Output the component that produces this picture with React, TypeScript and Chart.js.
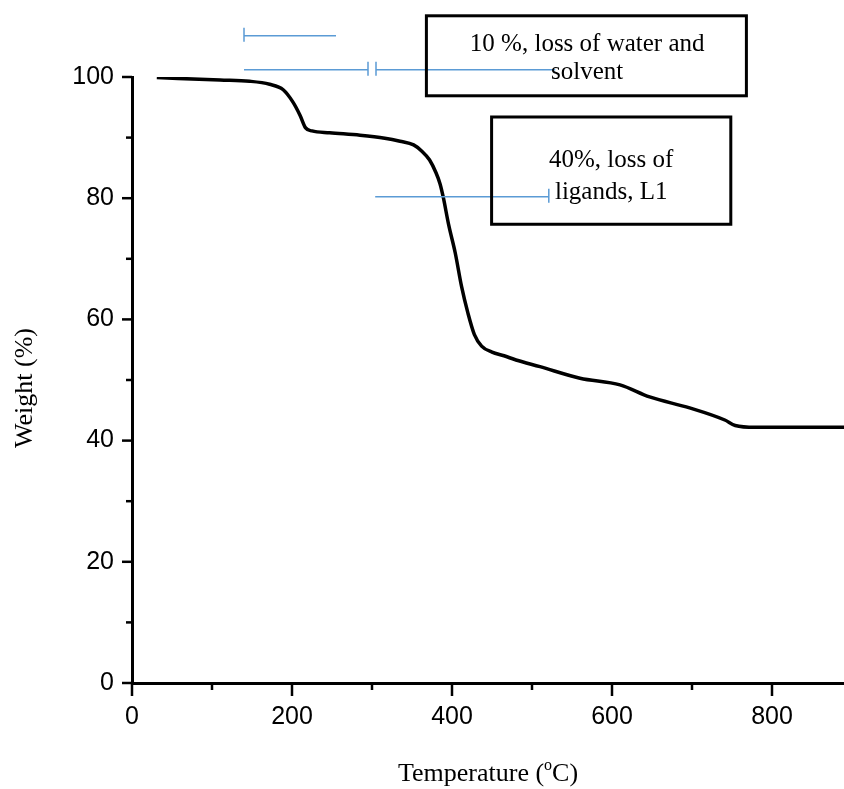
import React, { useEffect, useRef } from 'react';
import { Chart, registerables } from 'chart.js';
Chart.register(...registerables);

// TGA curve (temperature in °C, weight in %)
const temperatures = [31, 110, 147, 172, 189, 201, 210, 217, 225, 247, 285, 316, 335, 352, 362, 372, 380, 385, 389, 396, 404, 412, 420, 428, 437, 450, 465, 480, 510, 560, 610, 647, 697, 741, 754, 779, 890];
const weights = [99.9, 99.5, 99.3, 98.8, 97.9, 95.9, 93.7, 91.6, 91.1, 90.8, 90.4, 89.9, 89.4, 88.8, 87.8, 86.3, 84.2, 82.4, 80.2, 75.5, 71.0, 65.4, 61.0, 57.5, 55.6, 54.6, 54.0, 53.3, 52.2, 50.3, 49.2, 47.2, 45.4, 43.4, 42.5, 42.2, 42.2];

const xTicks = [0, 100, 200, 300, 400, 500, 600, 700, 800];
const xLabels = [0, 200, 400, 600, 800];
const yTicks = [0, 10, 20, 30, 40, 50, 60, 70, 80, 90, 100];
const yLabels = [0, 20, 40, 60, 80, 100];

const xTitle = ['Temperature (', 'o', 'C)'];
const yTitle = 'Weight (%)';

// annotations (data units)
const boxes = [
  { x1: 368, x2: 768, y1: 110.1, y2: 96.9, lines: ['10 %, loss of water and', 'solvent'], tx: 569, ty: [105.3, 100.7] },
  { x1: 449.5, x2: 748.5, y1: 93.4, y2: 75.7, lines: ['40%, loss of', 'ligands, L1'], tx: 599, ty: [86.3, 81.0] },
];
// blue bracket lines: [xStart, xEnd, y, capAtStart, capAtEnd]
const brackets: [number, number, number, boolean, boolean][] = [
  [140, 255, 106.8, true, false],
  [140, 295, 101.2, false, true],
  [305, 529, 101.2, true, false],
  [304, 521, 80.25, false, true],
];

const annotPlugin = {
  id: 'annot',
  afterDraw(chart: any) {
    const { ctx, scales, chartArea } = chart;
    const x = scales.x, y = scales.y;
    const px = (v: number) => x.getPixelForValue(v);
    const py = (v: number) => y.getPixelForValue(v);
    ctx.save();
    // tick marks
    ctx.strokeStyle = '#000';
    ctx.lineWidth = 2.5;
    yTicks.forEach((v) => {
      const len = yLabels.includes(v) ? 10 : 6;
      const yy = py(v);
      ctx.beginPath();
      ctx.moveTo(chartArea.left - len, yy);
      ctx.lineTo(chartArea.left, yy);
      ctx.stroke();
    });
    xTicks.forEach((v) => {
      const len = xLabels.includes(v) ? 13 : 7;
      const xx = px(v);
      ctx.beginPath();
      ctx.moveTo(xx, chartArea.bottom);
      ctx.lineTo(xx, chartArea.bottom + len);
      ctx.stroke();
    });
    // blue brackets
    ctx.strokeStyle = '#5B9BD5';
    ctx.lineWidth = 1.5;
    brackets.forEach(([a, b, v, c1, c2]) => {
      const yy = py(v);
      ctx.beginPath();
      ctx.moveTo(px(a), yy);
      ctx.lineTo(px(b), yy);
      if (c1) { ctx.moveTo(px(a), yy - 8); ctx.lineTo(px(a), yy + 6); }
      if (c2) { ctx.moveTo(px(b), yy - 8); ctx.lineTo(px(b), yy + 6); }
      ctx.stroke();
    });
    // boxes
    ctx.strokeStyle = '#000';
    ctx.lineWidth = 3;
    ctx.fillStyle = '#000';
    ctx.font = '25px "Liberation Serif", "Times New Roman", serif';
    ctx.textAlign = 'center';
    ctx.textBaseline = 'middle';
    boxes.forEach((bx) => {
      const l = px(bx.x1), r = px(bx.x2), t = py(bx.y1), bt = py(bx.y2);
      ctx.strokeRect(l, t, r - l, bt - t);
      bx.lines.forEach((s, i) => ctx.fillText(s, px(bx.tx), py(bx.ty[i])));
    });
    // x title with superscript
    const cx = (chartArea.left + chartArea.right) / 2;
    const ty = chart.height - 16;
    const big = '26px "Liberation Serif", "Times New Roman", serif';
    const small = '16px "Liberation Serif", "Times New Roman", serif';
    ctx.font = big;
    const w1 = ctx.measureText(xTitle[0]).width;
    const w3 = ctx.measureText(xTitle[2]).width;
    ctx.font = small;
    const w2 = ctx.measureText(xTitle[1]).width;
    const total = w1 + w2 + w3;
    let sx = cx - total / 2;
    ctx.textAlign = 'left';
    ctx.textBaseline = 'alphabetic';
    ctx.font = big;
    ctx.fillText(xTitle[0], sx, ty + 8);
    sx += w1;
    ctx.font = small;
    ctx.fillText(xTitle[1], sx, ty - 3);
    sx += w2;
    ctx.font = big;
    ctx.fillText(xTitle[2], sx, ty + 8);
    // y title
    ctx.translate(25, (chartArea.top + chartArea.bottom) / 2 + 8);
    ctx.rotate(-Math.PI / 2);
    ctx.textAlign = 'center';
    ctx.textBaseline = 'middle';
    ctx.font = big;
    ctx.fillText(yTitle, 0, 0);
    ctx.restore();
  },
};

export default function App() {
  const ref = useRef<HTMLCanvasElement>(null);
  useEffect(() => {
    document.body.style.margin = '0';
    const chart = new Chart(ref.current!, {
      type: 'line',
      data: {
        datasets: [
          {
            data: temperatures.map((t, i) => ({ x: t, y: weights[i] })),
            borderColor: '#000',
            borderWidth: 3.5,
            pointRadius: 0,
            fill: false,
            cubicInterpolationMode: 'monotone',
          },
        ],
      },
      options: {
        responsive: false,
        animation: false,
        layout: { padding: { top: 77, left: 0, right: 0, bottom: 0 } },
        plugins: { legend: { display: false }, tooltip: { enabled: false } },
        scales: {
          x: {
            type: 'linear',
            min: 0,
            max: 890,
            afterBuildTicks: (s: any) => { s.ticks = xTicks.map((v) => ({ value: v })); },
            afterFit: (s: any) => { s.height = 106; },
            ticks: {
              callback: (v: any) => (xLabels.includes(Number(v)) ? String(v) : ''),
              font: { family: '"Liberation Sans", Arial, sans-serif', size: 25 },
              color: '#000',
              padding: 19,
              maxRotation: 0,
              autoSkip: false,
            },
            grid: { display: false, drawTicks: false },
            border: { display: true, color: '#000', width: 3 },
          },
          y: {
            type: 'linear',
            min: 0,
            max: 100,
            afterBuildTicks: (s: any) => { s.ticks = yTicks.map((v) => ({ value: v })); },
            afterFit: (s: any) => { s.width = 132; },
            ticks: {
              callback: (v: any) => (yLabels.includes(Number(v)) ? String(v) : ''),
              font: { family: '"Liberation Sans", Arial, sans-serif', size: 25 },
              color: '#000',
              padding: 18,
              autoSkip: false,
            },
            grid: { display: false, drawTicks: false },
            border: { display: true, color: '#000', width: 3 },
          },
        },
      },
      plugins: [annotPlugin],
    });
    return () => chart.destroy();
  }, []);
  return (
    <div style={{ width: 844, height: 789 }}>
      <canvas ref={ref} width={844} height={789} />
    </div>
  );
}
